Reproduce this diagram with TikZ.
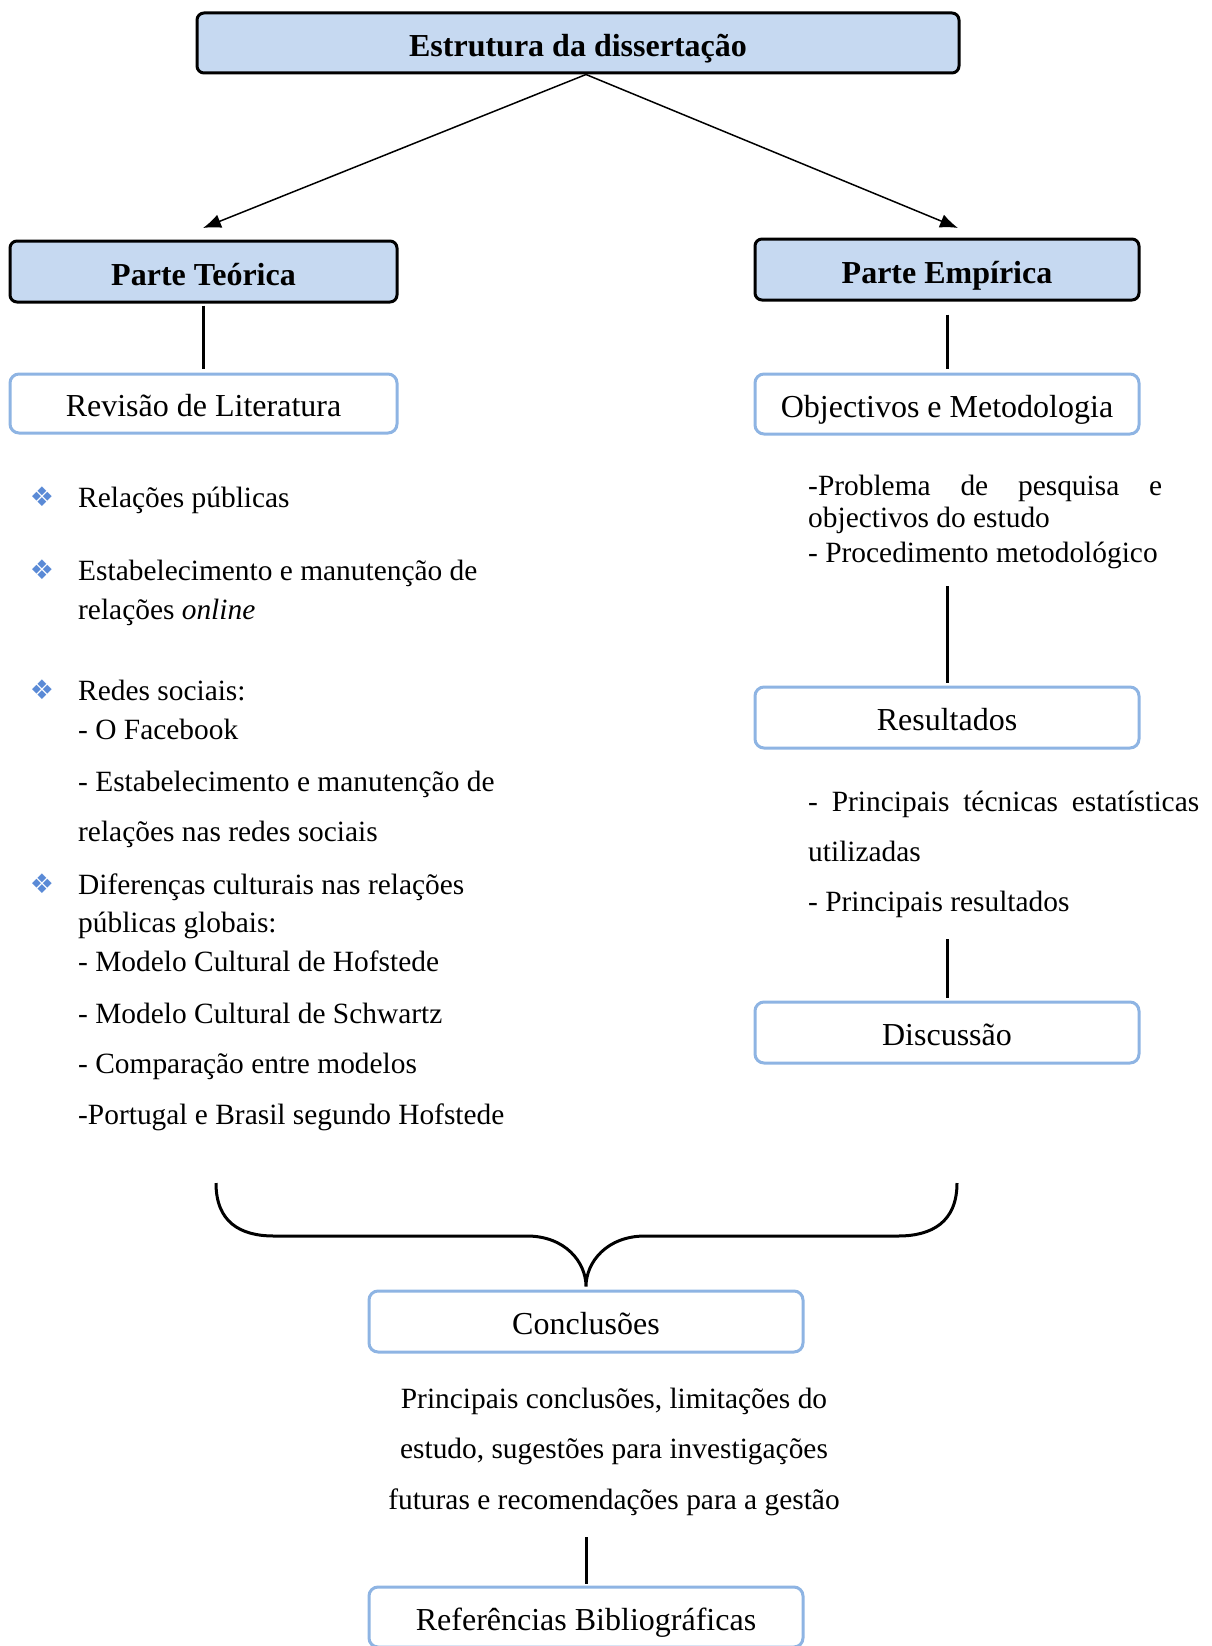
\documentclass[tikz,border=0pt]{standalone}
\usepackage{fontspec}
\setmainfont{Liberation Serif}
\newfontfamily\symbolfont{DejaVu Sans}
\usetikzlibrary{arrows.meta,positioning,calc}
\definecolor{HeadFill}{HTML}{C6D9F1}
\definecolor{EdgeBlue}{HTML}{8EB4E3}
\definecolor{BulletBlue}{HTML}{5A8AD6}
\newcommand{\bulletmark}{{\symbolfont\color{BulletBlue}❖}}
\tikzset{
  headbox/.style={draw=black,line width=3pt,fill=HeadFill,rounded corners=7pt,align=center,text height=27pt,text depth=0pt,font=\fontsize{32}{38}\selectfont\bfseries},
  stagebox/.style={draw=EdgeBlue,line width=3pt,fill=white,rounded corners=9pt,align=center,text height=26pt,text depth=0pt,font=\fontsize{32}{38}\selectfont},
  txt/.style={anchor=west,inner sep=0pt,font=\fontsize{29.4}{35}\selectfont,text height=22pt,text depth=2pt},
  midtxt/.style={txt,anchor=center},
  bulletnode/.style={inner sep=0pt,font=\fontsize{27}{27}\selectfont},
  arrowline/.style={-{Latex[length=18pt,width=14pt]},line width=1.5pt},
  joinline/.style={line width=3pt}
}

\begin{document}
\begin{tikzpicture}[x=1pt,y=-1pt]
  \useasboundingbox (0,0) rectangle (1211,1646);
  % boxes
  \node[headbox,minimum width=762pt,minimum height=60pt] (top) at (578,43) {Estrutura da disserta\c{c}\~ao};
  \node[headbox,minimum width=387pt,minimum height=61pt] (teorica) at (203.5,271.5) {Parte Te\'orica};
  \node[headbox,minimum width=384pt,minimum height=61pt] (empirica) at (947,269.5) {Parte Emp\'irica};
  \node[stagebox,minimum width=387pt,minimum height=59pt] (revisao) at (203.5,403.5) {Revis\~ao de Literatura};
  \node[stagebox,minimum width=384pt,minimum height=60pt] (objectivos) at (947,404) {Objectivos e Metodologia};
  \node[stagebox,minimum width=384pt,minimum height=61pt] (resultados) at (947,717.5) {Resultados};
  \node[stagebox,minimum width=384pt,minimum height=61pt] (discussao) at (947,1032.5) {Discuss\~ao};
  \node[stagebox,minimum width=434pt,minimum height=61pt] (conclusoes) at (586,1321.5) {Conclus\~oes};
  \node[stagebox,minimum width=434pt,minimum height=60pt] (referencias) at (586,1617) {Refer\^encias Bibliogr\'aficas};

  % left list
  \foreach \ypos [count=\i] in {497,570,690,884}
    \node[bulletnode] (bullet\i) at (42,\ypos) {\bulletmark};
  \foreach \ypos/\entry [count=\i] in {497/{Relações públicas},
      570/{Estabelecimento e manutenção de}, 609/{relações \emph{online}},
      690/{Redes sociais:}, 729/{- O Facebook},
      781/{- Estabelecimento e manutenção de}, 831/{relações nas redes sociais},
      884/{Diferenças culturais nas relações}, 922/{públicas globais:},
      961/{- Modelo Cultural de Hofstede}, 1013/{- Modelo Cultural de Schwartz},
      1063/{- Comparação entre modelos}, 1114/{-Portugal e Brasil segundo Hofstede}}
    \node[txt] (left\i) at (78,\ypos) {\entry};

  % right notes
  \foreach \ypos/\entry [count=\i] in {485/{\makebox[354pt][s]{-Problema de pesquisa e}},
      517/{objectivos do estudo}, 552/{- Procedimento metodológico},
      801/{\makebox[391pt][s]{- Principais técnicas estatísticas}},
      851/{utilizadas}, 901/{- Principais resultados}}
    \node[txt] (right\i) at (808,\ypos) {\entry};

  % conclusions note
  \foreach \ypos/\entry [count=\i] in {1398/{Principais conclusões, limitações do},
      1448/{estudo, sugestões para investigações},
      1499/{futuras e recomendações para a gestão}}
    \node[midtxt] (note\i) at (614,\ypos) {\entry};

  % connectors
  \coordinate (tipL) at (203,228);
  \coordinate (tipR) at (958,228);
  \draw[arrowline] ([xshift=8pt]top.south) -- (tipL);
  \draw[arrowline] ([xshift=8pt]top.south) -- (tipR);
  \draw[joinline,shorten <=2pt,shorten >=4pt] (teorica) -- (revisao);
  \draw[joinline,shorten <=13pt,shorten >=4pt] (empirica) -- (objectivos);
  \coordinate (gap1) at (947,586);
  \coordinate (gap2) at (947,939);
  \coordinate (gap3) at (586,1537);
  \draw[joinline,shorten >=3pt] (gap1) -- (resultados.north);
  \draw[joinline,shorten >=3pt] (gap2) -- (discussao.north);
  \draw[joinline,shorten >=2pt] (gap3) -- (referencias.north);
  % brace
  \draw[joinline] (216,1183) .. controls (216,1222) and (240,1236) .. (274,1236) -- (527,1236)
    .. controls (565,1236) and (586,1262) .. ([yshift=3pt]conclusoes.north)
    .. controls (586,1262) and (607,1236) .. (645,1236) -- (898,1236)
    .. controls (932,1236) and (957,1222) .. (957,1183);
\end{tikzpicture}
\end{document}
